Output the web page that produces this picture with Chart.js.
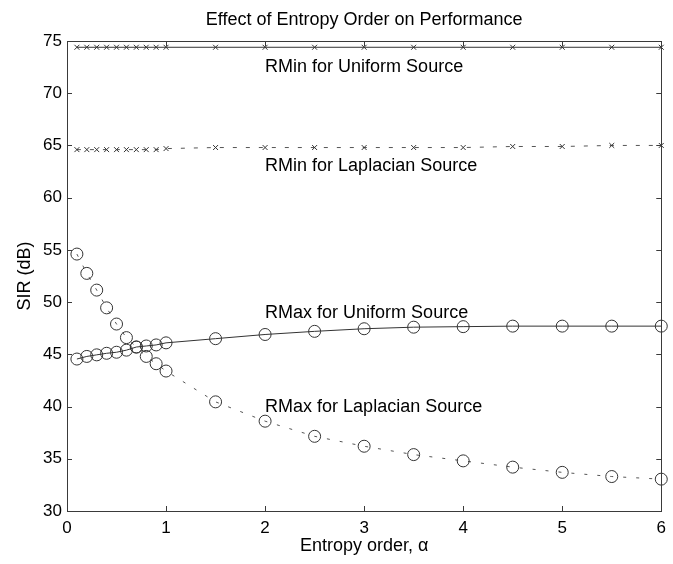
<!DOCTYPE html>
<html><head><meta charset="utf-8">
<script src="https://cdn.jsdelivr.net/npm/chart.js@4/dist/chart.umd.min.js"></script>
<style>html,body{margin:0;padding:0;background:#fff;} #wrap{width:673px;height:564px;position:relative;}</style>
</head><body><div id="wrap"><canvas id="c" width="673" height="564"></canvas></div>
<script>
const alphaValues   = [0.1,0.2,0.3,0.4,0.5,0.6,0.7,0.8,0.9,1.0,1.5,2,2.5,3,3.5,4,4.5,5,5.5,6];
const rminUniform   = [74.4,74.4,74.4,74.4,74.4,74.4,74.4,74.4,74.4,74.4,74.4,74.4,74.4,74.4,74.4,74.4,74.4,74.4,74.4,74.4];
const rminLaplacian = [64.6,64.6,64.6,64.6,64.6,64.6,64.6,64.6,64.6,64.7,64.8,64.8,64.8,64.8,64.8,64.8,64.9,64.9,65.0,65.0];
const rmaxUniform   = [44.55,44.8,44.95,45.1,45.2,45.4,45.7,45.8,45.9,46.1,46.5,46.9,47.2,47.45,47.6,47.65,47.7,47.7,47.7,47.7];
const rmaxLaplacian = [54.6,52.75,51.15,49.45,47.9,46.6,45.7,44.8,44.1,43.4,40.45,38.6,37.15,36.2,35.4,34.8,34.2,33.7,33.3,33.05];
const xTicks = [0,1,2,3,4,5,6];
const yTicks = [30,35,40,45,50,55,60,65,70,75];
const chartTitle = 'Effect of Entropy Order on Performance';
const xTitle = 'Entropy order, \u03b1';
const yTitle = 'SIR (dB)';
const labelTexts = ['RMin for Uniform Source','RMin for Laplacian Source','RMax for Uniform Source','RMax for Laplacian Source'];
const labelX = [2,2,2,2];
const labelY = [72.5,63,49,40];

const FONT = '"Liberation Sans", Arial, sans-serif';
const FS = 17;
const FT = 18;
const toPts = arr => alphaValues.map((a,i)=>({x:a,y:arr[i]}));

const framePlugin = {
  id:'frame',
  afterDatasetsDraw(chart){
    const {ctx, chartArea:a, scales:{x,y}} = chart;
    ctx.save();
    ctx.strokeStyle = '#3a3a3a';
    ctx.lineWidth = 1;
    ctx.setLineDash([]);
    ctx.strokeRect(Math.round(a.left)+0.5, Math.round(a.top)+0.5, Math.round(a.right-a.left), Math.round(a.bottom-a.top));
    const L = 5;
    ctx.beginPath();
    xTicks.forEach(v=>{
      const p = Math.round(x.getPixelForValue(v))+0.5;
      ctx.moveTo(p, a.bottom); ctx.lineTo(p, a.bottom-L);
      ctx.moveTo(p, a.top); ctx.lineTo(p, a.top+L);
    });
    yTicks.forEach(v=>{
      const p = Math.round(y.getPixelForValue(v))+0.5;
      ctx.moveTo(a.left, p); ctx.lineTo(a.left+L, p);
      ctx.moveTo(a.right, p); ctx.lineTo(a.right-L, p);
    });
    ctx.stroke();
    ctx.fillStyle = '#000';
    ctx.font = FT+'px '+FONT;
    ctx.textBaseline = 'middle';
    ctx.textAlign = 'left';
    labelTexts.forEach((t,i)=>{
      ctx.fillText(t, x.getPixelForValue(labelX[i]), y.getPixelForValue(labelY[i]));
    });
    ctx.textAlign = 'center';
    ctx.fillText(chartTitle, (a.left+a.right)/2, 20);
    ctx.fillText(xTitle, (a.left+a.right)/2, 546);
    ctx.save();
    ctx.translate(25, (a.top+a.bottom)/2);
    ctx.rotate(-Math.PI/2);
    ctx.fillText(yTitle, 0, 0);
    ctx.restore();
    ctx.restore();
  }
};

new Chart(document.getElementById('c'), {
  type:'scatter',
  data:{
    datasets:[
      {label:'RMin Uniform', data:toPts(rminUniform), showLine:true, borderColor:'#333', borderWidth:1, pointStyle:'crossRot', pointRadius:3.5, pointBorderWidth:1, pointBorderColor:'#333', backgroundColor:'transparent', clip:false},
      {label:'RMin Laplacian', data:toPts(rminLaplacian), showLine:true, borderColor:'#555', borderWidth:1, borderDash:[4,9], pointStyle:'crossRot', pointRadius:3.5, pointBorderWidth:1, pointBorderColor:'#333', backgroundColor:'transparent', clip:false},
      {label:'RMax Uniform', data:toPts(rmaxUniform), showLine:true, borderColor:'#333', borderWidth:1, pointStyle:'circle', pointRadius:6, pointBorderWidth:1, pointBorderColor:'#333', pointBackgroundColor:'transparent', backgroundColor:'transparent', clip:false},
      {label:'RMax Laplacian', data:toPts(rmaxLaplacian), showLine:true, borderColor:'#555', borderWidth:1, borderDash:[3,10], pointStyle:'circle', pointRadius:6, pointBorderWidth:1, pointBorderColor:'#333', pointBackgroundColor:'transparent', backgroundColor:'transparent', clip:false}
    ]
  },
  options:{
    responsive:false, animation:false, devicePixelRatio:1,
    layout:{padding:{top:41,right:9,left:0,bottom:0}},
    plugins:{legend:{display:false}, tooltip:{enabled:false}, title:{display:false}},
    scales:{
      x:{type:'linear', min:0, max:6, afterBuildTicks(s){s.ticks = xTicks.map(v=>({value:v}));},
        grid:{display:false, drawTicks:false}, border:{display:false},
        ticks:{padding:7, color:'#000', font:{family:FONT, size:FS}, maxRotation:0, autoSkip:false},
        afterFit(s){s.height = 53;}},
      y:{type:'linear', min:30, max:75, afterBuildTicks(s){s.ticks = yTicks.map(v=>({value:v}));},
        grid:{display:false, drawTicks:false}, border:{display:false},
        ticks:{padding:5, color:'#000', font:{family:FONT, size:FS}, autoSkip:false},
        afterFit(s){s.width = 67;}}
    }
  },
  plugins:[framePlugin]
});
</script></body></html>
